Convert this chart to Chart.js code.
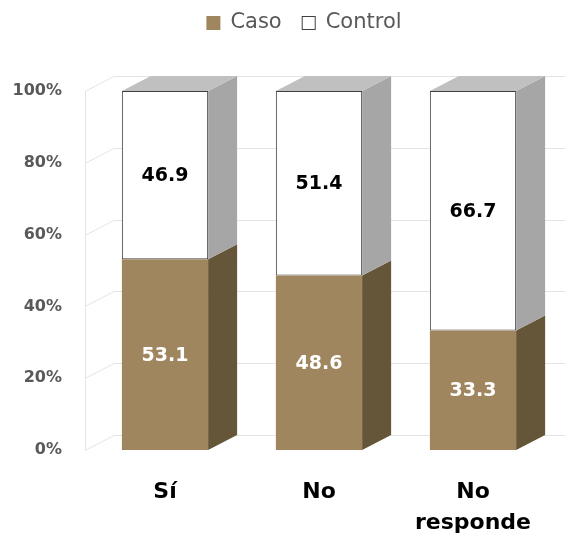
<!DOCTYPE html>
<html>
<head>
<meta charset="utf-8">
<script src="https://cdn.jsdelivr.net/npm/chart.js@4.4.1/dist/chart.umd.min.js"></script>
<style>
  body { margin: 0; background: #fff; }
  #wrap { width: 570px; height: 538px; }
</style>
</head>
<body>
<div id="wrap"><canvas id="grafico" width="570" height="538"></canvas></div>
<script>
// datos
const categorias = [["Sí"], ["No"], ["No", "responde"]];
const caso = [53.1, 48.6, 33.3];
const control = [46.9, 51.4, 66.7];
const nombresSeries = ["Caso", "Control"];
const ticksY = [0, 20, 40, 60, 80, 100];

const colorCaso = "#A0865F";
const colorCasoLado = "#655539";
const colorControl = "#FFFFFF";
const colorControlLado = "#A6A6A6";
const colorTapa = "#C0C0C0";

// profundidad del efecto 3D
const dx = 29;
const dy = -15;

const pared3D = {
    id: "pared3D",
    beforeDatasetsDraw(chart) {
        const ctx = chart.ctx;
        const y = chart.scales.y;
        const izq = chart.chartArea.left - 3;
        ctx.save();
        ctx.strokeStyle = "#E4E4E4";
        ctx.lineWidth = 1;
        ctx.beginPath();
        ctx.moveTo(izq + 0.5, y.getPixelForValue(100));
        ctx.lineTo(izq + 0.5, y.getPixelForValue(0));
        ticksY.forEach((t) => {
            const py = Math.round(y.getPixelForValue(t)) + 0.5;
            ctx.moveTo(izq, py);
            ctx.lineTo(izq + dx, py + dy);
            ctx.lineTo(565, py + dy);
        });
        ctx.stroke();
        ctx.restore();
    },
    afterDatasetsDraw(chart) {
        const ctx = chart.ctx;
        const n = chart.data.datasets.length;
        ctx.save();
        chart.data.datasets.forEach((ds, i) => {
            const meta = chart.getDatasetMeta(i);
            meta.data.forEach((bar, j) => {
                const p = bar.getProps(["x", "y", "base", "width"], true);
                const l = p.x - p.width / 2;
                const r = p.x + p.width / 2;
                ctx.fillStyle = i === 0 ? colorCasoLado : colorControlLado;
                ctx.beginPath();
                ctx.moveTo(r, p.y);
                ctx.lineTo(r + dx, p.y + dy);
                ctx.lineTo(r + dx, p.base + dy);
                ctx.lineTo(r, p.base);
                ctx.closePath();
                ctx.fill();
                if (i === n - 1) {
                    ctx.fillStyle = colorTapa;
                    ctx.beginPath();
                    ctx.moveTo(l, p.y);
                    ctx.lineTo(l + dx, p.y + dy);
                    ctx.lineTo(r + dx, p.y + dy);
                    ctx.lineTo(r, p.y);
                    ctx.closePath();
                    ctx.fill();
                }
                // etiqueta de valor
                ctx.fillStyle = i === 0 ? "#FFFFFF" : "#000000";
                ctx.font = "bold 19px 'DejaVu Sans'";
                ctx.textAlign = "center";
                ctx.textBaseline = "middle";
                ctx.fillText(ds.data[j].toFixed(1), p.x, (p.y + p.base) / 2 + 1);
            });
        });
        ctx.restore();
    },
    afterDraw(chart) {
        // leyenda
        const ctx = chart.ctx;
        ctx.save();
        ctx.font = "21px 'DejaVu Sans'";
        const caja = 14, sep = 10, entre = 20;
        const anchos = nombresSeries.map((s) => ctx.measureText(s).width);
        const total = anchos.reduce((a, b) => a + b, 0) + 2 * (caja + sep) + entre;
        let x = 304 - total / 2;
        const cy = 23;
        nombresSeries.forEach((s, i) => {
            if (i === 0) {
                ctx.fillStyle = colorCaso;
                ctx.fillRect(x, cy - 7, caja, caja);
            } else {
                ctx.fillStyle = "#fff";
                ctx.fillRect(x, cy - 7, caja, caja);
                ctx.strokeStyle = "#404040";
                ctx.lineWidth = 1;
                ctx.strokeRect(x + 0.5, cy - 6.5, caja - 1, caja - 1);
            }
            ctx.fillStyle = "#595959";
            ctx.textAlign = "left";
            ctx.textBaseline = "middle";
            ctx.fillText(s, x + caja + sep, cy);
            x += caja + sep + anchos[i] + entre;
        });
        ctx.restore();
    }
};

const config = {
    type: "bar",
    data: {
        labels: categorias,
        datasets: [
            {
                label: nombresSeries[0],
                data: caso,
                backgroundColor: colorCaso,
                borderWidth: 0,
                barPercentage: 0.56,
                categoryPercentage: 1
            },
            {
                label: nombresSeries[1],
                data: control,
                backgroundColor: colorControl,
                borderColor: "#404040",
                borderWidth: 1,
                borderSkipped: false,
                barPercentage: 0.56,
                categoryPercentage: 1
            }
        ]
    },
    options: {
        responsive: false,
        animation: false,
        layout: { padding: { top: 91, right: 20, left: 0, bottom: 0 } },
        plugins: {
            legend: { display: false },
            tooltip: { enabled: false }
        },
        scales: {
            x: {
                stacked: true,
                grid: { display: false },
                border: { display: false },
                ticks: {
                    color: "#000",
                    font: { family: "'DejaVu Sans'", size: 22, weight: "bold", lineHeight: 1.4 },
                    padding: 19
                },
                afterFit: (scale) => { scale.height = 88; }
            },
            y: {
                stacked: true,
                min: 0,
                max: 100,
                grid: { display: false, drawTicks: false },
                border: { display: false },
                ticks: {
                    stepSize: 20,
                    color: "#595959",
                    font: { family: "'DejaVu Sans'", size: 16, weight: "bold" },
                    padding: 26,
                    callback: (v) => v + "%"
                },
                afterFit: (scale) => { scale.width = 88; }
            }
        }
    },
    plugins: [pared3D]
};

const grafico = new Chart(document.getElementById("grafico"), config);
</script>
</body>
</html>
